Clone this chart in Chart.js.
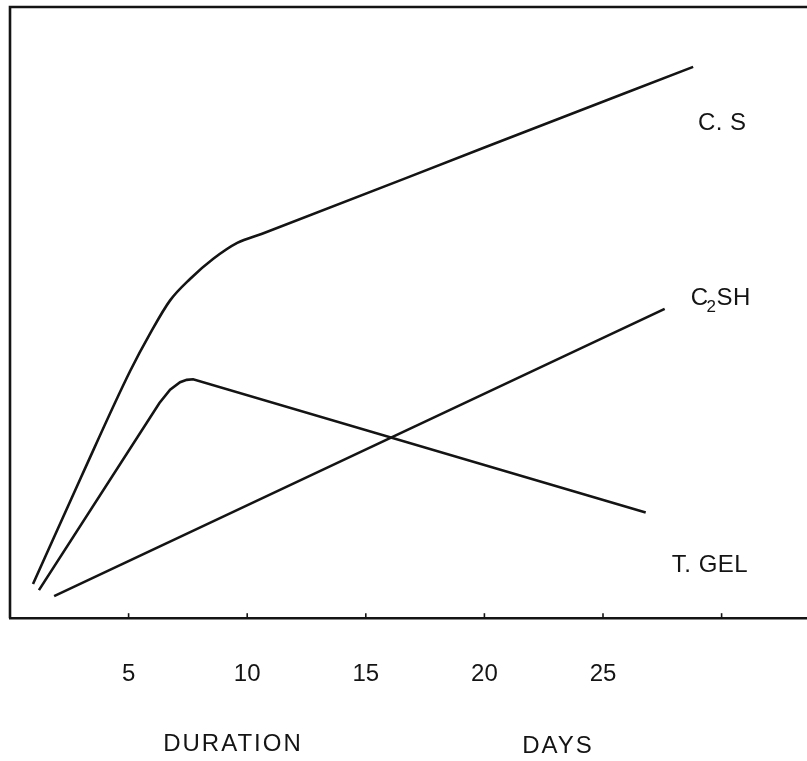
<!DOCTYPE html>
<html>
<head>
<meta charset="utf-8">
<script src="https://cdn.jsdelivr.net/npm/chart.js@4/dist/chart.umd.min.js"></script>
<style>
  html, body { margin: 0; padding: 0; background: #fff; }
  #wrap { width: 807px; height: 761px; position: relative; }
</style>
</head>
<body>
<div id="wrap"><canvas id="hydration"></canvas></div>
<script>
// duration in days vs. relative amount (arbitrary units, 0-100)
const csDays = [0.97, 3.0, 5.06, 5.91, 6.75, 7.59, 8.57, 9.58, 10.63, 20.0, 28.8];
const csValues = [5.6, 23.1, 40.4, 46.6, 52.0, 55.5, 58.8, 61.4, 62.9, 77.0, 90.2];

const c2shDays = [1.22, 6.3, 6.75, 7.17, 7.45, 7.72, 26.8];
const c2shValues = [4.6, 35.2, 37.4, 38.6, 39.0, 39.1, 17.3];

const gelDays = [1.86, 27.6];
const gelValues = [3.6, 50.6];

const dayTicks = [5, 10, 15, 20, 25];
const seriesNames = ['C. S', 'C2SH', 'T. GEL'];

const INK = '#141414';
const FONT = '"Liberation Sans", Arial, sans-serif';

const toPoints = (xs, ys) => xs.map((x, i) => ({ x: x, y: ys[i] }));

const lineStyle = {
    borderColor: INK,
    borderWidth: 2.6,
    pointRadius: 0,
    fill: false
};

// open frame (left and top rules), small inward ticks, curve names and axis words
const framePlugin = {
    id: 'frame',
    afterDraw(chart) {
        const { ctx, chartArea } = chart;
        const x = chart.scales.x;
        const y = chart.scales.y;
        ctx.save();
        ctx.strokeStyle = INK;
        ctx.lineWidth = 2.6;
        ctx.beginPath();
        ctx.moveTo(chartArea.left, chartArea.bottom);
        ctx.lineTo(chartArea.left, chartArea.top);
        ctx.lineTo(chart.width, chartArea.top);
        ctx.stroke();

        ctx.lineWidth = 1.6;
        [5, 10, 15, 20, 25, 30].forEach(d => {
            const px = x.getPixelForValue(d);
            ctx.beginPath();
            ctx.moveTo(px, chartArea.bottom);
            ctx.lineTo(px, chartArea.bottom - 5);
            ctx.stroke();
        });

        ctx.fillStyle = INK;
        ctx.font = '24px ' + FONT;
        ctx.textBaseline = 'middle';
        ctx.textAlign = 'left';
        ctx.letterSpacing = '0.5px';
        ctx.fillText('C. S', x.getPixelForValue(29.0), y.getPixelForValue(81.0));
        const cx = x.getPixelForValue(28.7);
        const cy = y.getPixelForValue(52.3);
        ctx.fillText('C', cx, cy);
        const cw = ctx.measureText('C').width;
        ctx.font = '17px ' + FONT;
        ctx.fillText('2', cx + cw - 2, cy + 9);
        const sw = ctx.measureText('2').width;
        ctx.font = '24px ' + FONT;
        ctx.fillText('SH', cx + cw - 2 + sw, cy);
        ctx.fillText('T. GEL', x.getPixelForValue(27.9), y.getPixelForValue(8.6));

        ctx.letterSpacing = '2px';
        ctx.textAlign = 'center';
        ctx.fillText('DURATION', x.getPixelForValue(9.4), 744);
        ctx.fillText('DAYS', x.getPixelForValue(23.1), 746);
        ctx.restore();
    }
};

new Chart(document.getElementById('hydration'), {
    type: 'line',
    data: {
        datasets: [
            Object.assign({ label: seriesNames[0], data: toPoints(csDays, csValues), cubicInterpolationMode: 'monotone' }, lineStyle),
            Object.assign({ label: seriesNames[1], data: toPoints(c2shDays, c2shValues), tension: 0 }, lineStyle),
            Object.assign({ label: seriesNames[2], data: toPoints(gelDays, gelValues), tension: 0 }, lineStyle)
        ]
    },
    options: {
        responsive: true,
        maintainAspectRatio: false,
        animation: false,
        layout: { padding: { left: 10, top: 7, right: 0, bottom: 38 } },
        plugins: {
            legend: { display: false },
            tooltip: { enabled: false }
        },
        scales: {
            x: {
                type: 'linear',
                min: 0,
                max: 33.6,
                afterBuildTicks(scale) {
                    scale.ticks = dayTicks.map(v => ({ value: v }));
                },
                grid: { display: false },
                border: { display: true, color: INK, width: 2.6 },
                ticks: {
                    color: INK,
                    padding: 34,
                    maxRotation: 0,
                    autoSkip: false,
                    font: { family: FONT, size: 24 }
                }
            },
            y: {
                display: false,
                min: 0,
                max: 100
            }
        }
    },
    plugins: [framePlugin]
});
</script>
</body>
</html>
